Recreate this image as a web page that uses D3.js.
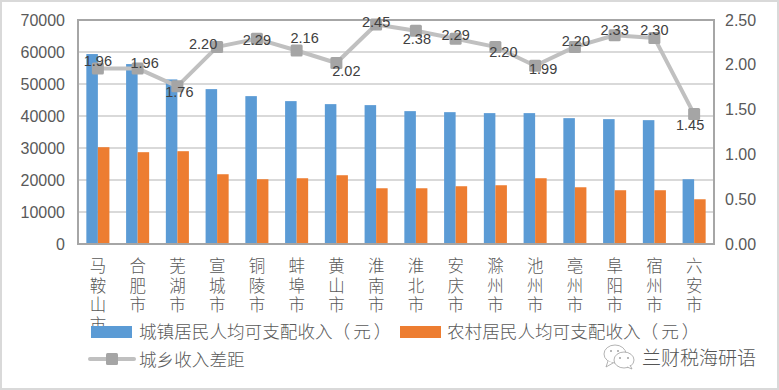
<!DOCTYPE html>
<html>
<head>
<meta charset="utf-8">
<script src="https://cdn.jsdelivr.net/npm/d3@7"></script>
<style>
  html, body { margin: 0; padding: 0; background: #fff; }
  svg { display: block; }
  text { font-family: "Liberation Sans", sans-serif; }
  .cjk { font-family: "Noto Sans CJK SC", sans-serif; text-spacing-trim: space-all; font-feature-settings: "chws" 0, "palt" 0, "halt" 0; }
  .vert { writing-mode: vertical-rl; text-orientation: upright; letter-spacing: 3.1px; }
</style>
</head>
<body>
<div id="chart"></div>
<script>
// data
var cities = ["马鞍山市", "合肥市", "芜湖市", "宣城市", "铜陵市", "蚌埠市", "黄山市", "淮南市",
              "淮北市", "安庆市", "滁州市", "池州市", "亳州市", "阜阳市", "宿州市", "六安市"];
var urban = [59360, 56230, 51430, 48400, 46210, 44650, 43710, 43400,
             41520, 41200, 40900, 40900, 39330, 39020, 38700, 20240];
var rural = [30250, 28690, 29000, 21800, 20240, 20550, 21490, 17420,
             17420, 18050, 18360, 20550, 17730, 16800, 16800, 13980];
var gap = [1.96, 1.96, 1.76, 2.20, 2.29, 2.16, 2.02, 2.45,
           2.38, 2.29, 2.20, 1.99, 2.20, 2.33, 2.30, 1.45];
var leftTicks = [0, 10000, 20000, 30000, 40000, 50000, 60000, 70000];
var rightTicks = [0, 0.5, 1, 1.5, 2, 2.5];
var seriesNames = ["城镇居民人均可支配收入（元）", "农村居民人均可支配收入（元）", "城乡收入差距"];
var watermark = "兰财税海研语";

// label nudges, same order as cities
var labelNudge = [[0, -8], [7, -6], [2, 5], [-14, -3], [0, 1], [8, -13], [10, 8], [0, -3],
                  [1, 8], [0, -4], [8, 5], [8, 3], [1, -6], [0, -5], [0, -8], [-4, 11]];

var W = 779, H = 390;
var margin = { left: 78, right: 65, top: 20, bottom: 146 };
var width = W - margin.left - margin.right,
    height = H - margin.top - margin.bottom;

var blue = "#5b9bd5", orange = "#ed7d31", lineGrey = "#c0c0c0", markGrey = "#a5a5a5",
    frame = "#a6a6a6", grid = "#d9d9d9", tickText = "#595959";

var svg = d3.select("#chart").append("svg")
    .attr("width", W)
    .attr("height", H);

// outer border of the screenshot
svg.append("rect")
    .attr("x", 1).attr("y", 1)
    .attr("width", W - 2).attr("height", H - 2)
    .attr("fill", "#fff")
    .attr("stroke", "#d9d9d9")
    .attr("stroke-width", 2);

var g = svg.append("g")
    .attr("transform", "translate(" + margin.left + "," + margin.top + ")");

// scales
var x = d3.scaleBand().domain(cities).range([0, width]);
var barW = x.bandwidth() * 0.29;
var y = d3.scaleLinear().domain([0, 70000]).range([height, 0]);
var y2 = d3.scaleLinear().domain([0, 2.5]).range([height, 0]);

// gridlines
g.append("g").selectAll("line")
    .data(leftTicks.slice(1, -1))
    .enter().append("line")
    .attr("x1", 0).attr("x2", width)
    .attr("y1", function(d) { return y(d); })
    .attr("y2", function(d) { return y(d); })
    .attr("stroke", grid)
    .attr("stroke-width", 2);

// bars
g.append("g").selectAll("rect")
    .data(urban)
    .enter().append("rect")
    .attr("x", function(d, i) { return x(cities[i]) + x.bandwidth() / 2 - barW; })
    .attr("y", function(d) { return y(d); })
    .attr("width", barW)
    .attr("height", function(d) { return height - y(d); })
    .attr("fill", blue);

g.append("g").selectAll("rect")
    .data(rural)
    .enter().append("rect")
    .attr("x", function(d, i) { return x(cities[i]) + x.bandwidth() / 2; })
    .attr("y", function(d) { return y(d); })
    .attr("width", barW)
    .attr("height", function(d) { return height - y(d); })
    .attr("fill", orange);

// frame
g.append("rect")
    .attr("width", width).attr("height", height)
    .attr("fill", "none")
    .attr("stroke", frame)
    .attr("stroke-width", 2);

// line + markers
var line = d3.line()
    .x(function(d, i) { return x(cities[i]) + x.bandwidth() / 2; })
    .y(function(d) { return y2(d); });

g.append("path")
    .datum(gap)
    .attr("d", line)
    .attr("fill", "none")
    .attr("stroke", lineGrey)
    .attr("stroke-width", 4)
    .attr("stroke-linejoin", "round");

g.append("g").selectAll("rect")
    .data(gap)
    .enter().append("rect")
    .attr("x", function(d, i) { return x(cities[i]) + x.bandwidth() / 2 - 6; })
    .attr("y", function(d) { return y2(d) - 6; })
    .attr("width", 12).attr("height", 12)
    .attr("rx", 1.5)
    .attr("fill", markGrey);

g.append("g").selectAll("text")
    .data(gap)
    .enter().append("text")
    .attr("x", function(d, i) { return x(cities[i]) + x.bandwidth() / 2 + labelNudge[i][0]; })
    .attr("y", function(d, i) { return y2(d) + labelNudge[i][1]; })
    .attr("dy", "0.36em")
    .attr("text-anchor", "middle")
    .attr("font-size", "14.5px")
    .attr("fill", "#404040")
    .text(function(d) { return d.toFixed(2); });

// axes
var yAxis = d3.axisLeft(y).tickValues(leftTicks).tickSize(0).tickPadding(13)
    .tickFormat(function(d) { return d; });
var yAxis2 = d3.axisRight(y2).tickValues(rightTicks).tickSize(0).tickPadding(11)
    .tickFormat(d3.format(".2f"));

var gl = g.append("g").call(yAxis);
var gr = g.append("g").attr("transform", "translate(" + width + ",0)").call(yAxis2);
[gl, gr].forEach(function(a) {
  a.select(".domain").remove();
  a.selectAll("text")
      .attr("font-size", "16px")
      .attr("font-family", "Liberation Sans")
      .attr("fill", tickText);
});

// category labels run top to bottom
var gx = g.append("g").attr("transform", "translate(0," + height + ")")
    .call(d3.axisBottom(x).tickSize(0).tickFormat(""));
gx.select(".domain").remove();
gx.selectAll(".tick").append("text")
    .attr("class", "cjk vert")
    .attr("text-anchor", "start")
    .attr("x", 0)
    .attr("y", 13.5)
    .attr("font-size", "16.5px")
    .attr("font-weight", 300)
    .attr("fill", tickText)
    .text(function(d) { return d; });

// legend
var legend = svg.append("g");

// one x per character, the reference sets its brackets wider than the font here does
var legendPos = [[139, 332], [447, 332], [139, 360]];
var charStep = 17.6;
var bracketShift = { "元": 3, "）": 6 };
legend.selectAll("text")
    .data(seriesNames)
    .enter().append("text")
    .attr("class", "cjk")
    .attr("x", function(d, i) {
      return Array.from(d).map(function(c, k) {
        return legendPos[i][0] + k * charStep + (bracketShift[c] || 0);
      }).join(" ");
    })
    .attr("y", function(d, i) { return legendPos[i][1]; })
    .attr("dy", "0.36em")
    .attr("font-size", "17.6px")
    .attr("font-weight", 300)
    .attr("fill", tickText)
    .text(function(d) { return d; });

// swatches go over the last char of the long first label, as in the reference
legend.append("rect").attr("x", 91).attr("y", 326).attr("width", 41).attr("height", 12).attr("fill", blue);
legend.append("rect").attr("x", 400).attr("y", 326).attr("width", 41).attr("height", 12).attr("fill", orange);
legend.append("line").attr("x1", 90).attr("x2", 134).attr("y1", 359).attr("y2", 359)
    .attr("stroke", lineGrey).attr("stroke-width", 4).attr("stroke-linecap", "round");
legend.append("rect").attr("x", 106).attr("y", 353).attr("width", 12).attr("height", 12)
    .attr("rx", 1.5).attr("fill", markGrey);

// wechat style watermark
var wm = svg.append("g").attr("fill", "#fff").attr("stroke", "#a0a0a0").attr("stroke-width", 0.8);
wm.append("ellipse").attr("cx", 615).attr("cy", 354).attr("rx", 11).attr("ry", 9);
wm.append("path").attr("d", "M608 361 L606 367 L613 363");
wm.append("ellipse").attr("cx", 624).attr("cy", 360).attr("rx", 10).attr("ry", 8);
wm.append("path").attr("d", "M627 367 L632 369 L630 365");
wm.append("g").attr("fill", "#a0a0a0").attr("stroke", "none")
    .selectAll("circle")
    .data([[611, 351], [618, 351], [620, 358], [628, 358]])
    .enter().append("circle")
    .attr("cx", function(d) { return d[0]; })
    .attr("cy", function(d) { return d[1]; })
    .attr("r", 1);
svg.append("text")
    .attr("class", "cjk")
    .attr("x", 642).attr("y", 358)
    .attr("dy", "0.36em")
    .attr("font-size", "19px")
    .attr("font-weight", 300)
    .attr("fill", "#555")
    .text(watermark);
</script>
</body>
</html>
